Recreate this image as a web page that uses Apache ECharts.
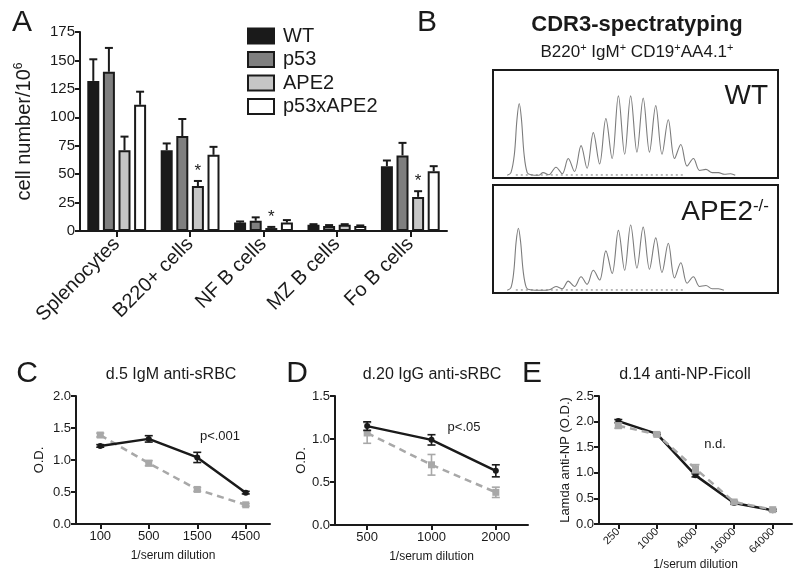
<!DOCTYPE html>
<html>
<head>
<meta charset="utf-8">
<script src="https://cdn.jsdelivr.net/npm/echarts@6/dist/echarts.min.js"></script>
<style>html,body{margin:0;padding:0;background:#fff}#c{width:800px;height:575px}</style>
</head>
<body>
<div id="c"></div>
<script>
// ---------- Panel A data ----------
const groupNames = ['WT', 'p53', 'APE2', 'p53xAPE2'];
const categoriesA = ['Splenocytes', 'B220+ cells', 'NF B cells', 'MZ B cells', 'Fo B cells'];
const wtA = [132, 71, 7.4, 5.5, 57];
const p53A = [140, 83.5, 9, 4.4, 66.5];
const ape2A = [71, 39.5, 2.6, 5.5, 30];
const p53ape2A = [111, 67, 7.4, 4.4, 52.5];
const wtAErr = [19, 6, 1, 0.5, 5];
const p53AErr = [21, 15, 3, 0.8, 11];
const ape2AErr = [12, 4.5, 1, 0.5, 5];
const p53ape2AErr = [11.5, 7, 2.2, 0.5, 4.5];
const sigA = [0, 1, 1, 0, 1];

// ---------- Panel B data (spectratype traces) ----------
const wtTrace = [[5,0.5],[6.3,3],[7.5,20],[8.4,52],[9.2,67],[10,52],[10.9,20],[12,3],[13.3,1],[16,0.5],[17.6,3],[19.6,1],[22.1,8],[24.3,2],[26.4,16],[28.6,4],[30.9,28],[33,7],[35.2,40],[37.4,11],[39.6,53],[41.8,16],[44,74],[46.2,20],[48.3,74],[50.5,22],[52.7,72],[54.9,22],[57.1,65],[59.3,20],[61.5,52],[63.7,16],[65.9,29],[68.1,9],[70.3,16],[72.5,5],[74.7,6],[76.9,3],[79.1,3],[81.2,1.5],[83.4,2],[85,0.5]];
const ape2Trace = [[5,0.5],[6.3,3],[7.3,18],[8.1,45],[8.9,58],[9.7,45],[10.6,18],[11.7,3],[13,1],[17,0.5],[19.8,1],[22.1,4],[24.3,2],[26.4,9],[28.6,4],[30.9,13],[33,6],[35.2,19],[37.4,10],[39.6,37],[41.8,16],[44,56],[46.2,19],[48.3,61],[50.5,21],[52.7,59],[54.9,20],[57.1,49],[59.3,17],[61.5,44],[63.7,12],[65.9,26],[68.1,7],[70.3,13],[72.5,4],[74.7,5],[76.9,2],[79.1,2],[81,0.5]];
const wtBackground = [[8,0.8],[67,0.8]];
const ape2Background = [[8,0.8],[67,0.8]];

// ---------- Panel C data ----------
const cCats = ['100', '500', '1500', '4500'];
const cWT = [1.22, 1.33, 1.04, 0.49];
const cWTErr = [0.02, 0.05, 0.08, 0.02];
const cAPE2 = [1.39, 0.95, 0.54, 0.30];
const cAPE2Err = [0.03, 0.04, 0.03, 0.02];

// ---------- Panel D data ----------
const dCats = ['500', '1000', '2000'];
const dWT = [1.15, 0.99, 0.63];
const dWTErr = [0.05, 0.06, 0.07];
const dAPE2 = [1.07, 0.70, 0.38];
const dAPE2Err = [0.12, 0.12, 0.06];

// ---------- Panel E data ----------
const eCats = ['250', '1000', '4000', '16000', '64000'];
const eWT = [2.01, 1.76, 0.95, 0.41, 0.27];
const eWTErr = [0.03, 0.02, 0.03, 0.02, 0.02];
const eAPE2 = [1.92, 1.75, 1.08, 0.43, 0.28];
const eAPE2Err = [0.05, 0.03, 0.08, 0.03, 0.02];

const FONT = 'Liberation Sans, Arial, Helvetica, sans-serif';
const INK = '#1a1a1a';
const GRAY = '#a8a8a8';

const chart = echarts.init(document.getElementById('c'), null, {renderer: 'canvas'});

// bar layout constants for panel A
const BAR_W = 12;
const BAR_GAP_RATIO = 0.3;
const barStep = BAR_W * (1 + BAR_GAP_RATIO);

const barColors = ['#1a1a1a', '#7f7f7f', '#c6c6c6', '#ffffff'];
const barValues = [wtA, p53A, ape2A, p53ape2A];
const barErrs = [wtAErr, p53AErr, ape2AErr, p53ape2AErr];

function errUpRenderer(seriesIdx) {
  return function (params, api) {
    const ci = api.value(0), v = api.value(1), e = api.value(2), s = api.value(3);
    const off = (seriesIdx - 1.5) * barStep;
    const p0 = api.coord([ci, v]);
    const p1 = api.coord([ci, v + e]);
    const x = p0[0] + off;
    const children = [
      {type: 'line', shape: {x1: x, y1: p0[1], x2: x, y2: p1[1]}, style: {stroke: INK, lineWidth: 2}},
      {type: 'line', shape: {x1: x - 4, y1: p1[1], x2: x + 4, y2: p1[1]}, style: {stroke: INK, lineWidth: 2}}
    ];
    if (s) {
      children.push({type: 'text', x: x, y: p1[1] - 10, style: {text: '*', fontSize: 17, fontFamily: FONT, fill: INK, align: 'center', verticalAlign: 'middle'}});
    }
    return {type: 'group', children: children};
  };
}

function errBothRenderer(color) {
  return function (params, api) {
    const ci = api.value(0), v = api.value(1), e = api.value(2);
    const pt = api.coord([ci, v + e]);
    const pb = api.coord([ci, v - e]);
    const x = pt[0];
    const st = {stroke: color, lineWidth: 1.6};
    return {type: 'group', children: [
      {type: 'line', shape: {x1: x, y1: pt[1], x2: x, y2: pb[1]}, style: st},
      {type: 'line', shape: {x1: x - 4, y1: pt[1], x2: x + 4, y2: pt[1]}, style: st},
      {type: 'line', shape: {x1: x - 4, y1: pb[1], x2: x + 4, y2: pb[1]}, style: st}
    ]};
  };
}

const axisLine = {show: true, lineStyle: {color: INK, width: 2}};
const axisTick = (len) => ({show: true, length: len, lineStyle: {color: INK, width: 2}});

function valueY(gridIndex, max, interval, fontSize, name, nameGap, nameSize) {
  return {
    type: 'value', gridIndex: gridIndex, min: 0, max: max, interval: interval,
    axisLine: axisLine, axisTick: axisTick(5), splitLine: {show: false},
    axisLabel: {color: INK, fontSize: fontSize, fontFamily: FONT, margin: 5,
      formatter: (v) => (interval < 1 ? v.toFixed(1) : String(v))},
    name: name, nameLocation: 'middle', nameGap: nameGap,
    nameTextStyle: {color: INK, fontSize: nameSize, fontFamily: FONT,
      rich: {sup: {fontSize: 12, fontFamily: FONT, color: INK, padding: [0, 0, 10, 0]}}}
  };
}

function catX(gridIndex, data, rotate, fontSize, name, nameGap, margin, tickLen) {
  return {
    type: 'category', gridIndex: gridIndex, data: data, boundaryGap: true,
    axisLine: axisLine, axisTick: Object.assign(axisTick(tickLen || 5), {alignWithLabel: true}),
    axisLabel: {color: INK, fontSize: fontSize, fontFamily: FONT, rotate: rotate, margin: margin || 6, interval: 0},
    name: name, nameLocation: 'middle', nameGap: nameGap,
    nameTextStyle: {color: INK, fontSize: 12, fontFamily: FONT}
  };
}

const series = [];
// Panel A bars
groupNames.forEach((n, i) => {
  series.push({
    name: n, type: 'bar', xAxisIndex: 0, yAxisIndex: 0,
    data: barValues[i], barWidth: BAR_W, barGap: (BAR_GAP_RATIO * 100) + '%',
    itemStyle: {color: barColors[i], borderColor: INK, borderWidth: 2},
    emphasis: {disabled: true}, z: 2
  });
});
groupNames.forEach((n, i) => {
  series.push({
    type: 'custom', xAxisIndex: 0, yAxisIndex: 0, z: 3,
    renderItem: errUpRenderer(i),
    data: barValues[i].map((v, k) => [k, v, barErrs[i][k], i === 2 ? sigA[k] : 0]),
    silent: true
  });
});

// Panel B traces
[[1, wtTrace, wtBackground], [2, ape2Trace, ape2Background]].forEach(([gi, tr, bg]) => {
  series.push({type: 'line', xAxisIndex: gi, yAxisIndex: gi, data: bg, showSymbol: false,
    lineStyle: {color: '#777', width: 1, type: [2, 3]}, silent: true});
  series.push({type: 'line', xAxisIndex: gi, yAxisIndex: gi, data: tr, showSymbol: false,
    smooth: 0.35, lineStyle: {color: '#7c7c7c', width: 1.1}, silent: true});
});

// Panels C, D, E lines
function addLinePanel(gi, wt, wtErr, ape, apeErr, grayOnTop) {
  const gray = [
    {type: 'line', xAxisIndex: gi, yAxisIndex: gi, data: ape, symbol: 'rect', symbolSize: 7,
      itemStyle: {color: GRAY}, lineStyle: {color: GRAY, width: 2.5, type: [7, 5]}, z: grayOnTop ? 4 : 3, silent: true},
    {type: 'custom', xAxisIndex: gi, yAxisIndex: gi, renderItem: errBothRenderer(GRAY),
      data: ape.map((v, k) => [k, v, apeErr[k]]), z: grayOnTop ? 4 : 3, silent: true}
  ];
  const black = [
    {type: 'line', xAxisIndex: gi, yAxisIndex: gi, data: wt, symbol: 'circle', symbolSize: 6,
      itemStyle: {color: INK}, lineStyle: {color: INK, width: 2.5}, z: grayOnTop ? 3 : 4, silent: true},
    {type: 'custom', xAxisIndex: gi, yAxisIndex: gi, renderItem: errBothRenderer(INK),
      data: wt.map((v, k) => [k, v, wtErr[k]]), z: grayOnTop ? 3 : 4, silent: true}
  ];
  gray.concat(black).forEach(s => series.push(s));
}
addLinePanel(3, cWT, cWTErr, cAPE2, cAPE2Err, false);
addLinePanel(4, dWT, dWTErr, dAPE2, dAPE2Err, false);
addLinePanel(5, eWT, eWTErr, eAPE2, eAPE2Err, true);

function txt(x, y, text, size, opts) {
  return {type: 'text', x: x, y: y, silent: true,
    style: Object.assign({text: text, fontSize: size, fontFamily: FONT, fill: INK,
      align: 'center', verticalAlign: 'middle'}, opts || {})};
}

const option = {
  backgroundColor: '#ffffff',
  animation: false,
  textStyle: {fontFamily: FONT},
  legend: {
    data: groupNames, orient: 'vertical', left: 247, top: 26,
    itemWidth: 26, itemHeight: 15, itemGap: 3.5,
    textStyle: {color: INK, fontSize: 20, fontFamily: FONT, lineHeight: 20, padding: [0, 0, 0, 4]},
    selectedMode: false, icon: 'rect', padding: 0
  },
  grid: [
    {left: 80, top: 32, width: 367, height: 199},
    {left: 493, top: 70, width: 285, height: 108, show: true, borderColor: INK, borderWidth: 2, backgroundColor: 'transparent'},
    {left: 493, top: 185, width: 285, height: 108, show: true, borderColor: INK, borderWidth: 2, backgroundColor: 'transparent'},
    {left: 76, top: 396, width: 194, height: 128},
    {left: 335, top: 396, width: 193, height: 129},
    {left: 599, top: 396, width: 193, height: 128}
  ],
  xAxis: [
    catX(0, categoriesA, 45, 20, '', 0, 10, 6),
    {type: 'value', gridIndex: 1, min: 0, max: 100, show: false},
    {type: 'value', gridIndex: 2, min: 0, max: 100, show: false},
    catX(3, cCats, 0, 13, '1/serum dilution', 26),
    catX(4, dCats, 0, 13, '1/serum dilution', 26),
    catX(5, eCats, 45, 11, '1/serum dilution', 35)
  ],
  yAxis: [
    valueY(0, 175, 25, 15, 'cell number/10{sup|6}', 45, 20),
    {type: 'value', gridIndex: 1, min: -2, max: 98, show: false},
    {type: 'value', gridIndex: 2, min: -2, max: 98, show: false},
    valueY(3, 2.0, 0.5, 13, 'O.D.', 30, 13),
    valueY(4, 1.5, 0.5, 13, 'O.D.', 27, 13),
    valueY(5, 2.5, 0.5, 13, 'Lamda anti-NP (O.D.)', 26, 13)
  ],
  series: series,
  graphic: [
    txt(22, 23, 'A', 30),
    txt(427, 23, 'B', 30),
    txt(27, 374, 'C', 30),
    txt(297, 374, 'D', 30),
    txt(532, 374, 'E', 30),
    txt(637, 25, 'CDR3-spectratyping', 22, {fontWeight: 'bold'}),
    txt(637, 52, 'B220{s|+} IgM{s|+} CD19{s|+}AA4.1{s|+}', 17,
      {rich: {s: {fontSize: 11, fontFamily: FONT, fill: INK, padding: [0, 0, 8, 0]}}}),
    txt(768, 96, 'WT', 28, {align: 'right'}),
    txt(769, 212, 'APE2{s|-/-}', 28,
      {align: 'right', rich: {s: {fontSize: 17, fontFamily: FONT, fill: INK, padding: [0, 0, 12, 0]}}}),
    txt(171, 375, 'd.5 IgM anti-sRBC', 16),
    txt(432, 375, 'd.20 IgG anti-sRBC', 16),
    txt(685, 375, 'd.14 anti-NP-Ficoll', 16),
    txt(220, 436, 'p<.001', 13),
    txt(464, 427, 'p<.05', 13),
    txt(715, 444, 'n.d.', 13)
  ]
};
chart.setOption(option);
</script>
</body>
</html>
